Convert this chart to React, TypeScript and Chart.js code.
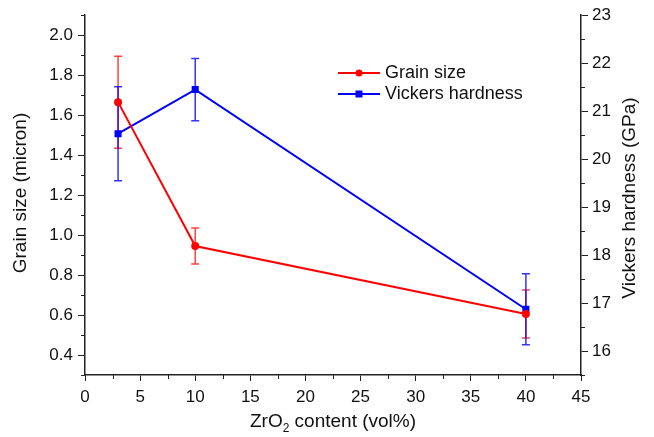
import React, { useEffect, useRef } from "react";
import { Chart, registerables } from "chart.js";

Chart.register(...registerables);

const zrO2Content = [3, 10, 40];
const grainSize = [1.665, 0.945, 0.605];
const grainSizeErr = [0.23, 0.09, 0.12];
const vickersHardness = [20.53, 21.45, 16.87];
const vickersHardnessErr = [0.98, 0.65, 0.74];

const xTicks = [0, 5, 10, 15, 20, 25, 30, 35, 40, 45];
const xMinorTicks = [2.5, 7.5, 12.5, 17.5, 22.5, 27.5, 32.5, 37.5, 42.5];
const leftTicks = [0.4, 0.6, 0.8, 1.0, 1.2, 1.4, 1.6, 1.8, 2.0];
const leftMinorTicks = [0.3, 0.5, 0.7, 0.9, 1.1, 1.3, 1.5, 1.7, 1.9, 2.1];
const rightTicks = [16, 17, 18, 19, 20, 21, 22, 23];
const rightMinorTicks = [15.5, 16.5, 17.5, 18.5, 19.5, 20.5, 21.5, 22.5];

const FONT = "'Liberation Sans', Arial, sans-serif";
const AXIS = "#222";
const RED = "#ff0000";
const BLUE = "#0000ff";
const TICK_SIZE = 17;
const TITLE_SIZE = 19;
const LEGEND_SIZE = 18;

const errorBarPlugin = {
  id: "errorBars",
  beforeDatasetsDraw(chart: any) {
    const ctx = chart.ctx;
    const x = chart.scales.x;
    const sets = [
      { scale: chart.scales.y, vals: grainSize, errs: grainSizeErr, color: "rgba(255,0,0,0.75)" },
      { scale: chart.scales.y2, vals: vickersHardness, errs: vickersHardnessErr, color: "rgba(0,0,255,0.8)" },
    ];
    ctx.save();
    ctx.lineWidth = 1.5;
    sets.forEach((s) => {
      ctx.strokeStyle = s.color;
      s.vals.forEach((v, i) => {
        const px = x.getPixelForValue(zrO2Content[i]);
        const top = s.scale.getPixelForValue(v + s.errs[i]);
        const bot = s.scale.getPixelForValue(v - s.errs[i]);
        ctx.beginPath();
        ctx.moveTo(px, top);
        ctx.lineTo(px, bot);
        ctx.moveTo(px - 4, top);
        ctx.lineTo(px + 4, top);
        ctx.moveTo(px - 4, bot);
        ctx.lineTo(px + 4, bot);
        ctx.stroke();
      });
    });
    ctx.restore();
  },
};

const decorPlugin = {
  id: "decor",
  afterDraw(chart: any) {
    const ctx = chart.ctx;
    const area = chart.chartArea;
    const { x, y, y2 } = chart.scales;
    ctx.save();
    // minor ticks
    ctx.strokeStyle = AXIS;
    ctx.lineWidth = 1;
    const len = 4;
    ctx.beginPath();
    xMinorTicks.forEach((v) => {
      const px = Math.round(x.getPixelForValue(v)) + 0.5;
      ctx.moveTo(px, area.bottom);
      ctx.lineTo(px, area.bottom + len);
    });
    leftMinorTicks.forEach((v) => {
      const py = Math.round(y.getPixelForValue(v)) + 0.5;
      ctx.moveTo(area.left - len, py);
      ctx.lineTo(area.left, py);
    });
    rightMinorTicks.forEach((v) => {
      const py = Math.round(y2.getPixelForValue(v)) + 0.5;
      ctx.moveTo(area.right, py);
      ctx.lineTo(area.right + len, py);
    });
    ctx.stroke();

    // axis titles
    ctx.fillStyle = "#111";
    ctx.textBaseline = "middle";
    ctx.textAlign = "center";
    ctx.font = `${TITLE_SIZE}px ${FONT}`;
    ctx.save();
    ctx.translate(21, 193);
    ctx.rotate(-Math.PI / 2);
    ctx.fillText("Grain size (micron)", 0, 0);
    ctx.restore();
    ctx.save();
    ctx.translate(630, 198);
    ctx.rotate(-Math.PI / 2);
    ctx.fillText("Vickers hardness (GPa)", 0, 0);
    ctx.restore();

    // x title with subscript
    const part1 = "ZrO";
    const sub = "2";
    const part2 = " content (vol%)";
    ctx.font = `${TITLE_SIZE}px ${FONT}`;
    const w1 = ctx.measureText(part1).width;
    const w3 = ctx.measureText(part2).width;
    ctx.font = `12px ${FONT}`;
    const w2 = ctx.measureText(sub).width;
    const total = w1 + w2 + w3;
    const cx = (area.left + area.right) / 2;
    let sx = cx - total / 2;
    const ty = 422;
    ctx.textAlign = "left";
    ctx.font = `${TITLE_SIZE}px ${FONT}`;
    ctx.fillText(part1, sx, ty);
    sx += w1;
    ctx.font = `12px ${FONT}`;
    ctx.fillText(sub, sx, ty + 7);
    sx += w2;
    ctx.font = `${TITLE_SIZE}px ${FONT}`;
    ctx.fillText(part2, sx, ty);

    // legend
    const items = [
      { label: "Grain size", color: RED, shape: "circle", y: 73 },
      { label: "Vickers hardness", color: BLUE, shape: "square", y: 94 },
    ];
    items.forEach((it) => {
      ctx.strokeStyle = it.color;
      ctx.fillStyle = it.color;
      ctx.lineWidth = 2;
      ctx.beginPath();
      ctx.moveTo(338, it.y);
      ctx.lineTo(380, it.y);
      ctx.stroke();
      ctx.beginPath();
      if (it.shape === "circle") {
        ctx.arc(359, it.y, 3.5, 0, Math.PI * 2);
      } else {
        ctx.rect(359 - 3.5, it.y - 3.5, 7, 7);
      }
      ctx.fill();
      ctx.fillStyle = "#111";
      ctx.font = `${LEGEND_SIZE}px ${FONT}`;
      ctx.textAlign = "left";
      ctx.textBaseline = "middle";
      ctx.fillText(it.label, 385, it.y);
    });
    ctx.restore();
  },
};

export default function App() {
  const ref = useRef<HTMLCanvasElement | null>(null);
  useEffect(() => {
    if (!ref.current) return;
    const chart = new Chart(ref.current, {
      type: "line",
      data: {
        datasets: [
          {
            label: "Grain size",
            data: zrO2Content.map((x, i) => ({ x, y: grainSize[i] })),
            borderColor: RED,
            backgroundColor: RED,
            borderWidth: 2,
            pointStyle: "circle",
            pointRadius: 4,
            pointBorderWidth: 0,
            yAxisID: "y",
          },
          {
            label: "Vickers hardness",
            data: zrO2Content.map((x, i) => ({ x, y: vickersHardness[i] })),
            borderColor: BLUE,
            backgroundColor: BLUE,
            borderWidth: 2,
            pointStyle: "rect",
            pointRadius: 5,
            pointBorderWidth: 0,
            yAxisID: "y2",
          },
        ],
      },
      plugins: [errorBarPlugin, decorPlugin],
      options: {
        animation: false,
        responsive: false,
        layout: { padding: { top: 10, left: 0, right: 0, bottom: 0 } },
        plugins: {
          legend: { display: false },
          tooltip: { enabled: false },
          title: { display: false },
        },
        scales: {
          x: {
            type: "linear",
            min: 0,
            max: 45,
            afterBuildTicks: (axis: any) => {
              axis.ticks = xTicks.map((v) => ({ value: v }));
            },
            afterFit: (scale: any) => {
              scale.height = 62;
            },
            grid: { drawOnChartArea: false, tickLength: 6, color: AXIS, tickColor: AXIS },
            border: { display: true, color: AXIS, width: 1.5 },
            ticks: { color: "#111", font: { family: FONT, size: TICK_SIZE }, padding: 6, maxRotation: 0 },
          },
          y: {
            type: "linear",
            position: "left",
            min: 0.3,
            max: 2.1,
            afterBuildTicks: (axis: any) => {
              axis.ticks = leftTicks.map((v) => ({ value: v }));
            },
            afterFit: (scale: any) => {
              scale.width = 85;
            },
            grid: { drawOnChartArea: false, tickLength: 7, color: AXIS, tickColor: AXIS },
            border: { display: true, color: AXIS, width: 1.5 },
            ticks: {
              color: "#111",
              font: { family: FONT, size: TICK_SIZE },
              padding: 5,
              callback: (v: any) => Number(v).toFixed(1),
            },
          },
          y2: {
            type: "linear",
            position: "right",
            min: 15.5,
            max: 23,
            afterBuildTicks: (axis: any) => {
              axis.ticks = rightTicks.map((v) => ({ value: v }));
            },
            afterFit: (scale: any) => {
              scale.width = 73;
            },
            grid: { drawOnChartArea: false, tickLength: 7, color: AXIS, tickColor: AXIS },
            border: { display: true, color: AXIS, width: 1.5 },
            ticks: { color: "#111", font: { family: FONT, size: TICK_SIZE }, padding: 4 },
          },
        },
      },
    } as any);
    return () => chart.destroy();
  }, []);
  return (
    <div style={{ position: "fixed", left: 0, top: 0, width: 654, height: 437, background: "#fff" }}>
      <canvas ref={ref} width={654} height={437} style={{ width: 654, height: 437 }} />
    </div>
  );
}
